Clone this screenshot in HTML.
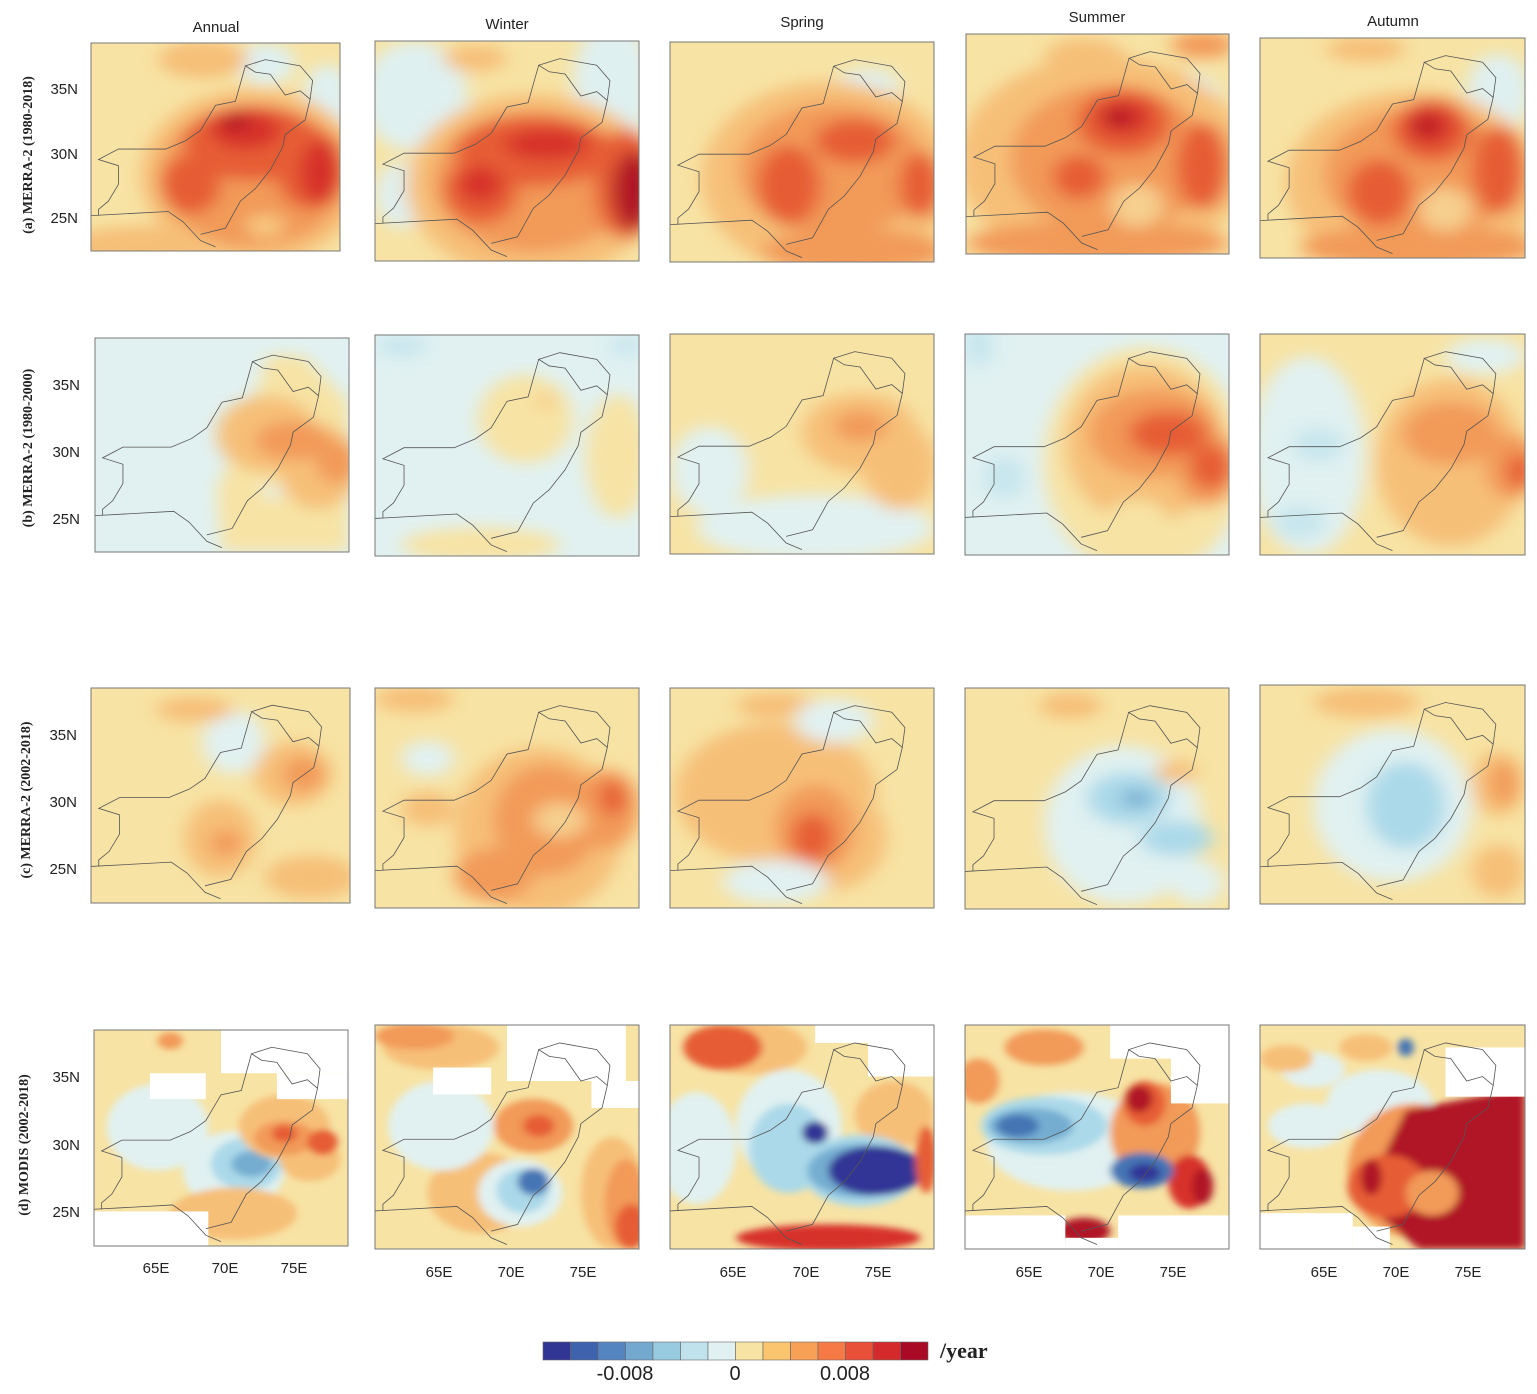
<!DOCTYPE html>
<html><head><meta charset="utf-8"><style>
body{margin:0;background:#fff;width:1537px;height:1394px;overflow:hidden}
svg{display:block}
.t{font-family:"Liberation Sans",sans-serif;font-size:15px;fill:#222}
.r{font-family:"Liberation Serif",serif;font-size:14px;font-weight:bold;fill:#222}
</style></head><body>
<svg width="1537" height="1394" viewBox="0 0 1537 1394" xmlns="http://www.w3.org/2000/svg">
<defs>
<clipPath id="cp"><rect x="0" y="0" width="100" height="100"/></clipPath>
<filter id="bl" filterUnits="userSpaceOnUse" x="-30" y="-30" width="160" height="160"><feGaussianBlur stdDeviation="3.5"/></filter>
<filter id="bs" filterUnits="userSpaceOnUse" x="-30" y="-30" width="160" height="160"><feGaussianBlur stdDeviation="1.5"/></filter>
<polyline id="ol" fill="none" stroke="#555" stroke-width="0.8" vector-effect="non-scaling-stroke" points="0,83 31,81 37,86 44,95 50,98 M"/>
<g id="map" fill="none" stroke="#555" stroke-width="0.8">
<polyline vector-effect="non-scaling-stroke" points="0,83 31,81 37,86 44,95 50,98"/>
<polyline vector-effect="non-scaling-stroke" points="44,92 54,89 60,76 66,70 72,61 77,50 78,44 86,37 88,27 84,23 78,25 72,15 66,14 62,11 70,8 84,11 89,18 88,27"/>
<polyline vector-effect="non-scaling-stroke" points="62,11 58,28 50,30 44,42 38,47 30,51 11,51 3,56 11,59 11,68 7,76 3,80 3,83"/>
</g>
</defs>

<!-- Row a -->
<g transform="translate(91,43) scale(2.49,2.08)"><g clip-path="url(#cp)"><rect width="100" height="100" fill="#f7e3a4"/><g filter="url(#bl)">
<ellipse cx="70" cy="10" rx="12" ry="10" fill="#dff0f0"/><ellipse cx="95" cy="30" rx="10" ry="20" fill="#dff0f0"/>
<ellipse cx="45" cy="8" rx="18" ry="9" fill="#f6bf78"/><ellipse cx="20" cy="98" rx="30" ry="10" fill="#f6bf78"/>
<ellipse cx="65" cy="64" rx="45" ry="42" fill="#f6bf78"/><ellipse cx="65" cy="64" rx="38" ry="34" fill="#f29a58"/>
<ellipse cx="65" cy="48" rx="28" ry="18" fill="#e65d35"/><ellipse cx="40" cy="68" rx="12" ry="14" fill="#e65d35"/><ellipse cx="88" cy="60" rx="14" ry="20" fill="#e65d35"/>
<ellipse cx="62" cy="42" rx="14" ry="9" fill="#d7302a"/><ellipse cx="92" cy="62" rx="8" ry="15" fill="#d7302a"/><ellipse cx="58" cy="38" rx="5" ry="4" fill="#b01225"/>
<ellipse cx="70" cy="88" rx="8" ry="6" fill="#f6c47e"/></g><use href="#map"/></g><rect width="100" height="100" fill="none" stroke="#777" stroke-width="1" vector-effect="non-scaling-stroke"/></g>

<g transform="translate(375,41) scale(2.64,2.2)"><g clip-path="url(#cp)"><rect width="100" height="100" fill="#f7e3a4"/><g filter="url(#bl)">
<ellipse cx="15" cy="25" rx="20" ry="25" fill="#dff0f0"/><ellipse cx="90" cy="20" rx="15" ry="30" fill="#dff0f0"/><ellipse cx="10" cy="70" rx="10" ry="15" fill="#dff0f0"/>
<ellipse cx="38" cy="8" rx="12" ry="6" fill="#f6bf78"/>
<ellipse cx="60" cy="66" rx="48" ry="42" fill="#f6bf78"/><ellipse cx="60" cy="64" rx="38" ry="32" fill="#f29a58"/>
<ellipse cx="60" cy="50" rx="30" ry="16" fill="#e65d35"/><ellipse cx="40" cy="68" rx="14" ry="15" fill="#e65d35"/><ellipse cx="95" cy="65" rx="12" ry="25" fill="#e65d35"/>
<ellipse cx="65" cy="47" rx="16" ry="7" fill="#d7302a"/><ellipse cx="98" cy="68" rx="8" ry="18" fill="#b01225"/><ellipse cx="40" cy="65" rx="8" ry="8" fill="#d7302a"/>
</g><use href="#map"/></g><rect width="100" height="100" fill="none" stroke="#777" stroke-width="1" vector-effect="non-scaling-stroke"/></g>

<g transform="translate(670,42) scale(2.64,2.2)"><g clip-path="url(#cp)"><rect width="100" height="100" fill="#f7e3a4"/><g filter="url(#bl)">
<ellipse cx="75" cy="20" rx="12" ry="8" fill="#dff0f0"/>
<ellipse cx="60" cy="62" rx="48" ry="44" fill="#f6bf78"/><ellipse cx="62" cy="58" rx="36" ry="30" fill="#f29a58"/><ellipse cx="70" cy="95" rx="35" ry="10" fill="#f29a58"/>
<ellipse cx="45" cy="65" rx="12" ry="18" fill="#e65d35"/><ellipse cx="70" cy="45" rx="15" ry="10" fill="#e65d35"/><ellipse cx="95" cy="65" rx="8" ry="15" fill="#e65d35"/>
</g><use href="#map"/></g><rect width="100" height="100" fill="none" stroke="#777" stroke-width="1" vector-effect="non-scaling-stroke"/></g>

<g transform="translate(966,34) scale(2.63,2.2)"><g clip-path="url(#cp)"><rect width="100" height="100" fill="#f7e3a4"/><g filter="url(#bl)">
<ellipse cx="85" cy="30" rx="12" ry="12" fill="#dff0f0"/><ellipse cx="15" cy="50" rx="10" ry="8" fill="#dff0f0"/>
<ellipse cx="45" cy="10" rx="15" ry="8" fill="#f6bf78"/><ellipse cx="90" cy="5" rx="12" ry="6" fill="#f29a58"/>
<ellipse cx="52" cy="58" rx="55" ry="48" fill="#f6bf78"/><ellipse cx="55" cy="57" rx="38" ry="34" fill="#f29a58"/><ellipse cx="50" cy="95" rx="50" ry="10" fill="#f29a58"/>
<ellipse cx="60" cy="40" rx="18" ry="15" fill="#e65d35"/><ellipse cx="43" cy="65" rx="10" ry="10" fill="#e65d35"/><ellipse cx="90" cy="60" rx="10" ry="20" fill="#e65d35"/>
<ellipse cx="60" cy="38" rx="10" ry="8" fill="#d7302a"/><ellipse cx="58" cy="38" rx="5" ry="4" fill="#b01225"/>
<ellipse cx="65" cy="78" rx="10" ry="10" fill="#f6cf8e"/></g><use href="#map"/></g><rect width="100" height="100" fill="none" stroke="#777" stroke-width="1" vector-effect="non-scaling-stroke"/></g>

<g transform="translate(1260,38) scale(2.65,2.2)"><g clip-path="url(#cp)"><rect width="100" height="100" fill="#f7e3a4"/><g filter="url(#bl)">
<ellipse cx="90" cy="25" rx="12" ry="18" fill="#dff0f0"/><ellipse cx="40" cy="5" rx="15" ry="6" fill="#f6bf78"/>
<ellipse cx="58" cy="66" rx="48" ry="42" fill="#f6bf78"/><ellipse cx="60" cy="62" rx="36" ry="30" fill="#f29a58"/><ellipse cx="60" cy="95" rx="45" ry="10" fill="#f29a58"/>
<ellipse cx="65" cy="42" rx="15" ry="14" fill="#e65d35"/><ellipse cx="45" cy="70" rx="12" ry="15" fill="#e65d35"/><ellipse cx="90" cy="60" rx="10" ry="20" fill="#e65d35"/>
<ellipse cx="64" cy="40" rx="9" ry="9" fill="#d7302a"/><ellipse cx="63" cy="40" rx="4" ry="4" fill="#b01225"/>
<ellipse cx="70" cy="78" rx="10" ry="10" fill="#f6cf8e"/></g><use href="#map"/></g><rect width="100" height="100" fill="none" stroke="#777" stroke-width="1" vector-effect="non-scaling-stroke"/></g>

<!-- Row b -->
<g transform="translate(95,338) scale(2.54,2.14)"><g clip-path="url(#cp)"><rect width="100" height="100" fill="#e1f1f1"/><g filter="url(#bl)">
<path d="M50,100 L48,70 L60,40 L68,8 L82,8 L100,30 L100,100Z" fill="#f7e3a4"/>
<ellipse cx="68" cy="45" rx="20" ry="18" fill="#f6bf78"/><ellipse cx="88" cy="60" rx="16" ry="20" fill="#f6bf78"/>
<ellipse cx="78" cy="48" rx="15" ry="9" fill="#f29a58"/><ellipse cx="95" cy="58" rx="8" ry="10" fill="#f29a58"/>
<ellipse cx="70" cy="72" rx="4" ry="3" fill="#e1f1f1"/></g><use href="#map"/></g><rect width="100" height="100" fill="none" stroke="#777" stroke-width="1" vector-effect="non-scaling-stroke"/></g>

<g transform="translate(375,335) scale(2.64,2.21)"><g clip-path="url(#cp)"><rect width="100" height="100" fill="#e1f1f1"/><g filter="url(#bl)">
<ellipse cx="57" cy="38" rx="18" ry="20" fill="#f7e3a4"/><ellipse cx="92" cy="55" rx="12" ry="28" fill="#f7e3a4"/><ellipse cx="40" cy="95" rx="30" ry="8" fill="#f7e3a4"/>
<ellipse cx="10" cy="5" rx="10" ry="5" fill="#c8e6ee"/><ellipse cx="95" cy="5" rx="6" ry="5" fill="#c8e6ee"/>
<ellipse cx="65" cy="30" rx="3" ry="3" fill="#f6bf78"/></g><use href="#map"/></g><rect width="100" height="100" fill="none" stroke="#777" stroke-width="1" vector-effect="non-scaling-stroke"/></g>

<g transform="translate(670,334) scale(2.64,2.2)"><g clip-path="url(#cp)"><rect width="100" height="100" fill="#f7e3a4"/><g filter="url(#bl)">
<ellipse cx="55" cy="88" rx="45" ry="15" fill="#e1f1f1"/><ellipse cx="15" cy="62" rx="15" ry="20" fill="#e1f1f1"/>
<ellipse cx="72" cy="45" rx="22" ry="18" fill="#f6bf78"/><ellipse cx="87" cy="60" rx="14" ry="20" fill="#f6bf78"/>
<ellipse cx="72" cy="42" rx="10" ry="7" fill="#f29a58"/></g><use href="#map"/></g><rect width="100" height="100" fill="none" stroke="#777" stroke-width="1" vector-effect="non-scaling-stroke"/></g>

<g transform="translate(965,334) scale(2.64,2.21)"><g clip-path="url(#cp)"><rect width="100" height="100" fill="#e1f1f1"/><g filter="url(#bl)">
<ellipse cx="68" cy="58" rx="38" ry="52" fill="#f7e3a4"/><ellipse cx="68" cy="50" rx="30" ry="36" fill="#f6bf78"/>
<ellipse cx="72" cy="45" rx="25" ry="20" fill="#f29a58"/><ellipse cx="92" cy="60" rx="12" ry="18" fill="#f29a58"/>
<ellipse cx="77" cy="45" rx="15" ry="10" fill="#e65d35"/><ellipse cx="93" cy="60" rx="8" ry="10" fill="#e65d35"/>
<ellipse cx="65" cy="85" rx="12" ry="10" fill="#f7e3a4"/><ellipse cx="5" cy="5" rx="6" ry="10" fill="#c8e6ee"/><ellipse cx="15" cy="65" rx="8" ry="10" fill="#c8e6ee"/></g><use href="#map"/></g><rect width="100" height="100" fill="none" stroke="#777" stroke-width="1" vector-effect="non-scaling-stroke"/></g>

<g transform="translate(1260,334) scale(2.65,2.21)"><g clip-path="url(#cp)"><rect width="100" height="100" fill="#f7e3a4"/><g filter="url(#bl)">
<ellipse cx="18" cy="55" rx="22" ry="45" fill="#e1f1f1"/><ellipse cx="85" cy="10" rx="15" ry="8" fill="#e1f1f1"/>
<ellipse cx="22" cy="50" rx="10" ry="8" fill="#c8e6ee"/><ellipse cx="15" cy="85" rx="10" ry="8" fill="#c8e6ee"/>
<ellipse cx="72" cy="58" rx="28" ry="38" fill="#f6bf78"/><ellipse cx="72" cy="45" rx="18" ry="14" fill="#f29a58"/><ellipse cx="95" cy="60" rx="10" ry="15" fill="#f29a58"/>
<ellipse cx="98" cy="62" rx="5" ry="8" fill="#e65d35"/></g><use href="#map"/></g><rect width="100" height="100" fill="none" stroke="#777" stroke-width="1" vector-effect="non-scaling-stroke"/></g>

<!-- Row c -->
<g transform="translate(91,688) scale(2.59,2.15)"><g clip-path="url(#cp)"><rect width="100" height="100" fill="#f7e3a4"/><g filter="url(#bl)">
<ellipse cx="55" cy="25" rx="12" ry="15" fill="#e1f1f1"/>
<ellipse cx="40" cy="10" rx="15" ry="6" fill="#f6bf78"/><ellipse cx="78" cy="40" rx="15" ry="15" fill="#f6bf78"/><ellipse cx="50" cy="70" rx="14" ry="18" fill="#f6bf78"/><ellipse cx="85" cy="88" rx="18" ry="10" fill="#f6bf78"/>
<ellipse cx="52" cy="72" rx="6" ry="6" fill="#f29a58"/><ellipse cx="82" cy="40" rx="8" ry="8" fill="#f29a58"/></g><use href="#map"/></g><rect width="100" height="100" fill="none" stroke="#777" stroke-width="1" vector-effect="non-scaling-stroke"/></g>

<g transform="translate(375,688) scale(2.64,2.2)"><g clip-path="url(#cp)"><rect width="100" height="100" fill="#f7e3a4"/><g filter="url(#bl)">
<ellipse cx="62" cy="65" rx="32" ry="38" fill="#f6bf78"/><ellipse cx="20" cy="55" rx="10" ry="8" fill="#f6bf78"/><ellipse cx="15" cy="5" rx="15" ry="6" fill="#f6bf78"/>
<ellipse cx="65" cy="60" rx="20" ry="25" fill="#f29a58"/><ellipse cx="88" cy="55" rx="12" ry="18" fill="#f29a58"/><ellipse cx="45" cy="85" rx="15" ry="12" fill="#f29a58"/>
<ellipse cx="90" cy="50" rx="5" ry="8" fill="#e65d35"/>
<ellipse cx="20" cy="32" rx="10" ry="8" fill="#e1f1f1"/><ellipse cx="70" cy="60" rx="10" ry="8" fill="#f6cf8e"/></g><use href="#map"/></g><rect width="100" height="100" fill="none" stroke="#777" stroke-width="1" vector-effect="non-scaling-stroke"/></g>

<g transform="translate(670,688) scale(2.64,2.2)"><g clip-path="url(#cp)"><rect width="100" height="100" fill="#f7e3a4"/><g filter="url(#bl)">
<ellipse cx="40" cy="48" rx="38" ry="32" fill="#f6bf78"/><ellipse cx="60" cy="68" rx="22" ry="24" fill="#f6bf78"/><ellipse cx="40" cy="8" rx="15" ry="6" fill="#f6bf78"/>
<ellipse cx="55" cy="64" rx="15" ry="20" fill="#f29a58"/><ellipse cx="54" cy="68" rx="8" ry="11" fill="#e65d35"/>
<ellipse cx="62" cy="15" rx="15" ry="10" fill="#e1f1f1"/><ellipse cx="40" cy="88" rx="20" ry="10" fill="#e1f1f1"/></g><use href="#map"/></g><rect width="100" height="100" fill="none" stroke="#777" stroke-width="1" vector-effect="non-scaling-stroke"/></g>

<g transform="translate(965,688) scale(2.64,2.21)"><g clip-path="url(#cp)"><rect width="100" height="100" fill="#f7e3a4"/><g filter="url(#bl)">
<ellipse cx="60" cy="62" rx="30" ry="36" fill="#e1f1f1"/><ellipse cx="88" cy="88" rx="10" ry="10" fill="#e1f1f1"/>
<ellipse cx="62" cy="50" rx="16" ry="12" fill="#abd9e9"/><ellipse cx="80" cy="68" rx="14" ry="8" fill="#abd9e9"/>
<ellipse cx="65" cy="50" rx="6" ry="4" fill="#74add1"/><ellipse cx="40" cy="8" rx="12" ry="6" fill="#f6bf78"/><ellipse cx="80" cy="38" rx="8" ry="5" fill="#f6bf78"/></g><use href="#map"/></g><rect width="100" height="100" fill="none" stroke="#777" stroke-width="1" vector-effect="non-scaling-stroke"/></g>

<g transform="translate(1260,685) scale(2.65,2.19)"><g clip-path="url(#cp)"><rect width="100" height="100" fill="#f7e3a4"/><g filter="url(#bl)">
<ellipse cx="50" cy="55" rx="30" ry="35" fill="#e1f1f1"/><ellipse cx="55" cy="55" rx="15" ry="20" fill="#abd9e9"/>
<ellipse cx="40" cy="8" rx="20" ry="7" fill="#f6bf78"/><ellipse cx="90" cy="45" rx="10" ry="15" fill="#f6bf78"/><ellipse cx="90" cy="85" rx="10" ry="12" fill="#f6bf78"/>
<ellipse cx="92" cy="45" rx="5" ry="10" fill="#f29a58"/></g><use href="#map"/></g><rect width="100" height="100" fill="none" stroke="#777" stroke-width="1" vector-effect="non-scaling-stroke"/></g>

<!-- Row d -->
<g transform="translate(94,1030) scale(2.54,2.16)"><g clip-path="url(#cp)"><rect width="100" height="100" fill="#f7e3a4"/><g filter="url(#bs)">
<ellipse cx="25" cy="45" rx="20" ry="20" fill="#e1f1f1"/><ellipse cx="55" cy="65" rx="20" ry="18" fill="#e1f1f1"/>
<ellipse cx="60" cy="62" rx="14" ry="12" fill="#abd9e9"/><ellipse cx="62" cy="62" rx="8" ry="6" fill="#74add1"/>
<ellipse cx="75" cy="45" rx="18" ry="15" fill="#f6bf78"/><ellipse cx="55" cy="85" rx="25" ry="12" fill="#f6bf78"/><ellipse cx="85" cy="60" rx="12" ry="10" fill="#f6bf78"/>
<ellipse cx="75" cy="50" rx="12" ry="8" fill="#f29a58"/><ellipse cx="90" cy="52" rx="6" ry="6" fill="#e65d35"/><ellipse cx="75" cy="48" rx="5" ry="4" fill="#e65d35"/><ellipse cx="30" cy="5" rx="5" ry="4" fill="#f29a58"/></g>
<rect x="50" y="0" width="50" height="20" fill="#fff"/><rect x="72" y="20" width="28" height="12" fill="#fff"/><rect x="22" y="20" width="22" height="12" fill="#fff"/><rect x="0" y="84" width="45" height="16" fill="#fff"/>
<use href="#map"/></g><rect width="100" height="100" fill="none" stroke="#777" stroke-width="1" vector-effect="non-scaling-stroke"/></g>

<g transform="translate(375,1025) scale(2.64,2.24)"><g clip-path="url(#cp)"><rect width="100" height="100" fill="#f7e3a4"/><g filter="url(#bs)">
<ellipse cx="25" cy="10" rx="22" ry="10" fill="#f6bf78"/><ellipse cx="40" cy="75" rx="20" ry="18" fill="#f6bf78"/><ellipse cx="90" cy="75" rx="12" ry="25" fill="#f6bf78"/>
<ellipse cx="60" cy="45" rx="15" ry="12" fill="#f29a58"/><ellipse cx="95" cy="80" rx="8" ry="20" fill="#f29a58"/><ellipse cx="15" cy="5" rx="15" ry="6" fill="#f29a58"/>
<ellipse cx="97" cy="90" rx="6" ry="10" fill="#e65d35"/><ellipse cx="62" cy="45" rx="6" ry="5" fill="#e65d35"/>
<ellipse cx="25" cy="45" rx="20" ry="20" fill="#e1f1f1"/><ellipse cx="55" cy="75" rx="16" ry="15" fill="#e1f1f1"/><ellipse cx="56" cy="74" rx="10" ry="10" fill="#abd9e9"/><ellipse cx="60" cy="70" rx="6" ry="6" fill="#4575b4"/></g>
<rect x="50" y="0" width="45" height="25" fill="#fff"/><rect x="82" y="25" width="18" height="12" fill="#fff"/><rect x="22" y="19" width="22" height="12" fill="#fff"/>
<use href="#map"/></g><rect width="100" height="100" fill="none" stroke="#777" stroke-width="1" vector-effect="non-scaling-stroke"/></g>

<g transform="translate(670,1025) scale(2.64,2.24)"><g clip-path="url(#cp)"><rect width="100" height="100" fill="#f7e3a4"/><g filter="url(#bs)">
<ellipse cx="30" cy="10" rx="22" ry="12" fill="#f6bf78"/><ellipse cx="20" cy="10" rx="15" ry="10" fill="#e65d35"/><ellipse cx="85" cy="40" rx="15" ry="15" fill="#f6bf78"/>
<ellipse cx="10" cy="55" rx="15" ry="25" fill="#e1f1f1"/><ellipse cx="45" cy="45" rx="20" ry="25" fill="#e1f1f1"/>
<ellipse cx="45" cy="55" rx="15" ry="20" fill="#abd9e9"/><ellipse cx="72" cy="65" rx="22" ry="16" fill="#abd9e9"/>
<ellipse cx="72" cy="65" rx="20" ry="12" fill="#74add1"/><ellipse cx="78" cy="65" rx="18" ry="11" fill="#313695"/><ellipse cx="55" cy="48" rx="5" ry="5" fill="#313695"/>
<ellipse cx="97" cy="60" rx="4" ry="15" fill="#e65d35"/><ellipse cx="60" cy="95" rx="35" ry="6" fill="#d7302a"/></g>
<rect x="55" y="0" width="45" height="8" fill="#fff"/><rect x="75" y="8" width="25" height="15" fill="#fff"/>
<use href="#map"/></g><rect width="100" height="100" fill="none" stroke="#777" stroke-width="1" vector-effect="non-scaling-stroke"/></g>

<g transform="translate(965,1025) scale(2.64,2.24)"><g clip-path="url(#cp)"><rect width="100" height="100" fill="#f7e3a4"/><g filter="url(#bs)">
<ellipse cx="30" cy="10" rx="15" ry="8" fill="#f29a58"/><ellipse cx="5" cy="25" rx="8" ry="10" fill="#f29a58"/>
<ellipse cx="40" cy="52" rx="32" ry="22" fill="#e1f1f1"/><ellipse cx="30" cy="45" rx="24" ry="13" fill="#abd9e9"/><ellipse cx="25" cy="45" rx="16" ry="8" fill="#74add1"/><ellipse cx="20" cy="45" rx="8" ry="5" fill="#4575b4"/>
<ellipse cx="72" cy="48" rx="17" ry="22" fill="#f29a58"/><ellipse cx="68" cy="35" rx="8" ry="10" fill="#e65d35"/><ellipse cx="66" cy="33" rx="5" ry="6" fill="#b01225"/>
<ellipse cx="85" cy="70" rx="8" ry="12" fill="#d7302a"/><ellipse cx="90" cy="72" rx="4" ry="8" fill="#b01225"/>
<ellipse cx="67" cy="65" rx="12" ry="8" fill="#4575b4"/><ellipse cx="68" cy="66" rx="6" ry="4" fill="#313695"/><ellipse cx="45" cy="92" rx="10" ry="6" fill="#b01225"/></g>
<rect x="55" y="0" width="45" height="15" fill="#fff"/><rect x="78" y="15" width="22" height="20" fill="#fff"/><rect x="0" y="85" width="38" height="15" fill="#fff"/><rect x="58" y="85" width="42" height="15" fill="#fff"/><rect x="38" y="95" width="20" height="5" fill="#fff"/>
<use href="#map"/></g><rect width="100" height="100" fill="none" stroke="#777" stroke-width="1" vector-effect="non-scaling-stroke"/></g>

<g transform="translate(1260,1025) scale(2.65,2.24)"><g clip-path="url(#cp)"><rect width="100" height="100" fill="#f7e3a4"/><g filter="url(#bs)">
<ellipse cx="20" cy="20" rx="12" ry="8" fill="#e1f1f1"/><ellipse cx="45" cy="35" rx="20" ry="15" fill="#e1f1f1"/><ellipse cx="18" cy="45" rx="15" ry="10" fill="#e1f1f1"/>
<ellipse cx="40" cy="10" rx="10" ry="6" fill="#f6bf78"/><ellipse cx="10" cy="15" rx="10" ry="6" fill="#f6bf78"/>
<ellipse cx="58" cy="65" rx="25" ry="30" fill="#f29a58"/>
<path d="M55,38 L100,28 L100,100 L60,100 L42,82 L46,60Z" fill="#b01225"/>
<ellipse cx="48" cy="72" rx="15" ry="14" fill="#e65d35"/><ellipse cx="65" cy="75" rx="10" ry="10" fill="#f29a58"/><ellipse cx="42" cy="68" rx="4" ry="8" fill="#b01225"/>
<ellipse cx="55" cy="10" rx="3" ry="4" fill="#4575b4"/></g>
<rect x="70" y="10" width="30" height="22" fill="#fff"/><rect x="0" y="84" width="35" height="16" fill="#fff"/><rect x="35" y="90" width="14" height="10" fill="#fff"/>
<use href="#map"/></g><rect width="100" height="100" fill="none" stroke="#777" stroke-width="1" vector-effect="non-scaling-stroke"/></g>

<!-- Titles -->
<text class="t" x="216" y="32" text-anchor="middle">Annual</text>
<text class="t" x="507" y="29" text-anchor="middle">Winter</text>
<text class="t" x="802" y="27" text-anchor="middle">Spring</text>
<text class="t" x="1097" y="22" text-anchor="middle">Summer</text>
<text class="t" x="1393" y="26" text-anchor="middle">Autumn</text>

<!-- Row labels -->
<text class="r" transform="translate(32,155) rotate(-90)" text-anchor="middle">(a) MERRA-2 (1980-2018)</text>
<text class="r" transform="translate(32,448) rotate(-90)" text-anchor="middle">(b) MERRA-2 (1980-2000)</text>
<text class="r" transform="translate(30,800) rotate(-90)" text-anchor="middle">(c) MERRA-2 (2002-2018)</text>
<text class="r" transform="translate(28,1145) rotate(-90)" text-anchor="middle">(d) MODIS (2002-2018)</text>

<g class="t" text-anchor="end" font-size="15">
<text class="t" x="78" y="94" text-anchor="end">35N</text><text class="t" x="78" y="159" text-anchor="end">30N</text><text class="t" x="78" y="223" text-anchor="end">25N</text>
<text class="t" x="80" y="390" text-anchor="end">35N</text><text class="t" x="80" y="457" text-anchor="end">30N</text><text class="t" x="80" y="524" text-anchor="end">25N</text>
<text class="t" x="77" y="740" text-anchor="end">35N</text><text class="t" x="77" y="807" text-anchor="end">30N</text><text class="t" x="77" y="874" text-anchor="end">25N</text>
<text class="t" x="80" y="1082" text-anchor="end">35N</text><text class="t" x="80" y="1150" text-anchor="end">30N</text><text class="t" x="80" y="1217" text-anchor="end">25N</text>
</g>
<g>
<text class="t" x="156" y="1273" text-anchor="middle">65E</text><text class="t" x="225" y="1273" text-anchor="middle">70E</text><text class="t" x="294" y="1273" text-anchor="middle">75E</text>
<text class="t" x="439" y="1277" text-anchor="middle">65E</text><text class="t" x="511" y="1277" text-anchor="middle">70E</text><text class="t" x="583" y="1277" text-anchor="middle">75E</text>
<text class="t" x="733" y="1277" text-anchor="middle">65E</text><text class="t" x="806" y="1277" text-anchor="middle">70E</text><text class="t" x="878" y="1277" text-anchor="middle">75E</text>
<text class="t" x="1029" y="1277" text-anchor="middle">65E</text><text class="t" x="1101" y="1277" text-anchor="middle">70E</text><text class="t" x="1173" y="1277" text-anchor="middle">75E</text>
<text class="t" x="1324" y="1277" text-anchor="middle">65E</text><text class="t" x="1396" y="1277" text-anchor="middle">70E</text><text class="t" x="1468" y="1277" text-anchor="middle">75E</text>
</g>

<!-- Colorbar -->
<g stroke="#666" stroke-width="0.6">
<rect x="543" y="1342" width="27.5" height="18" fill="#313695"/>
<rect x="570.5" y="1342" width="27.5" height="18" fill="#3f62ae"/>
<rect x="598" y="1342" width="27.5" height="18" fill="#5585c0"/>
<rect x="625.5" y="1342" width="27.5" height="18" fill="#74a9cf"/>
<rect x="653" y="1342" width="27.5" height="18" fill="#99cbe0"/>
<rect x="680.5" y="1342" width="27.5" height="18" fill="#bfe2ec"/>
<rect x="708" y="1342" width="27.5" height="18" fill="#e1f1f1"/>
<rect x="735.5" y="1342" width="27.5" height="18" fill="#f7e3a4"/>
<rect x="763" y="1342" width="27.5" height="18" fill="#fbc46e"/>
<rect x="790.5" y="1342" width="27.5" height="18" fill="#f9a057"/>
<rect x="818" y="1342" width="27.5" height="18" fill="#f57a45"/>
<rect x="845.5" y="1342" width="27.5" height="18" fill="#e8503a"/>
<rect x="873" y="1342" width="27.5" height="18" fill="#d42a2b"/>
<rect x="900.5" y="1342" width="27.5" height="18" fill="#a90a26"/>
</g>
<text class="t" x="625" y="1380" text-anchor="middle" font-size="20" style="font-size:20px">-0.008</text>
<text class="t" x="735" y="1380" text-anchor="middle" style="font-size:20px">0</text>
<text class="t" x="845" y="1380" text-anchor="middle" style="font-size:20px">0.008</text>
<text x="940" y="1358" style="font-family:'Liberation Serif',serif;font-size:22px;font-weight:bold;fill:#222">/year</text>
</svg>
</body></html>
